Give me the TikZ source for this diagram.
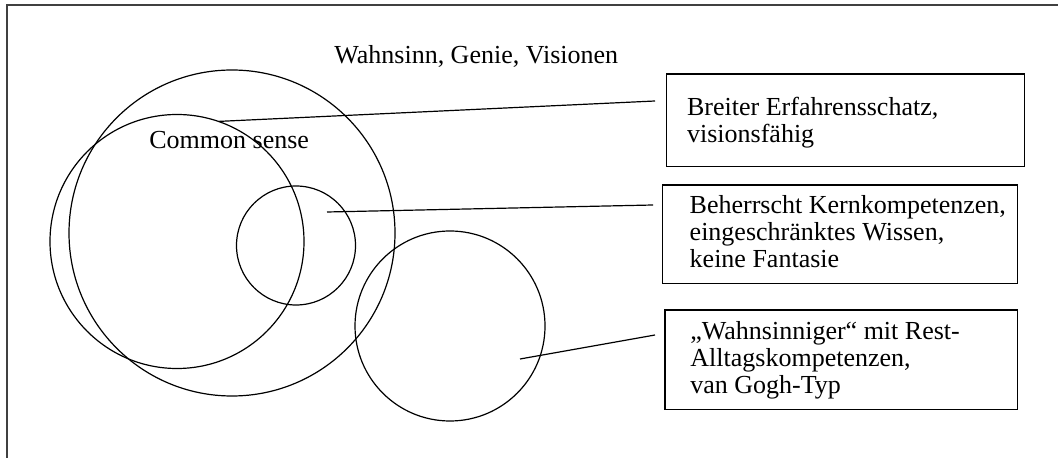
\documentclass[tikz,border=0pt]{standalone}
\usepackage{fontspec}
\setmainfont{Liberation Serif}
\begin{document}
\begin{tikzpicture}[x=0.5pt,y=-0.5pt,
        ring/.style={circle,draw,inner sep=0pt,outer sep=0pt,line width=0.6pt},
        infobox/.style={draw,rectangle,inner sep=0pt,outer sep=0pt,line width=0.7pt},
        infotext/.style={anchor=north west,align=left,inner sep=0pt,font=\fontsize{13}{13.4}\selectfont},
        lbl/.style={anchor=base west,inner sep=0pt,font=\fontsize{13}{13.4}\selectfont},
        link/.style={line width=0.6pt}]
    \useasboundingbox (0,0) rectangle (1058,458);
    \draw[line width=0.8pt,black!75] (1058,5) -- (7,5) -- (7,458);

    \node[ring,minimum size=163pt] (genie) at (232,233) {};
    \node[ring,minimum size=127pt] (common) at (177,241.5) {};
    \node[ring,minimum size=59.5pt] (kern) at (296,245.5) {};
    \node[ring,minimum size=95pt] (gogh) at (450,326) {};

    \node[lbl] (genietxt) at (334,64) {Wahnsinn, Genie, Visionen};
    \node[lbl] (commontxt) at (149,149) {Common sense};

    \node[infobox,minimum width=178.8pt,minimum height=46.35pt] (box1) at (845.5,120.35) {};
    \node[infobox,minimum width=177.5pt,minimum height=49.15pt] (box2) at (840.2,234.15) {};
    \node[infobox,minimum width=176.35pt,minimum height=49.65pt] (box3) at (841.35,359.65) {};

    \node[infotext] (txt1) at (686.7,97.2) {Breiter Erfahrensschatz,\\visionsfähig};
    \node[infotext] (txt2) at (689.3,195.2) {Beherrscht Kernkompetenzen,\\eingeschränktes Wissen,\\keine Fantasie};
    \node[infotext] (txt3) at (690,321.2) {„Wahnsinniger“ mit Rest-\\Alltagskompetenzen,\\van Gogh-Typ};

    \coordinate (end1) at (655,101);
    \coordinate (start2) at (327,212);
    \coordinate (end2) at (653,205);
    \coordinate (start3) at (520,359);
    \coordinate (end3) at (655,335);
    \draw[link] (common.71.6) -- (end1);
    \draw[link] (start2) -- (end2);
    \draw[link] (start3) -- (end3);
\end{tikzpicture}
\end{document}
